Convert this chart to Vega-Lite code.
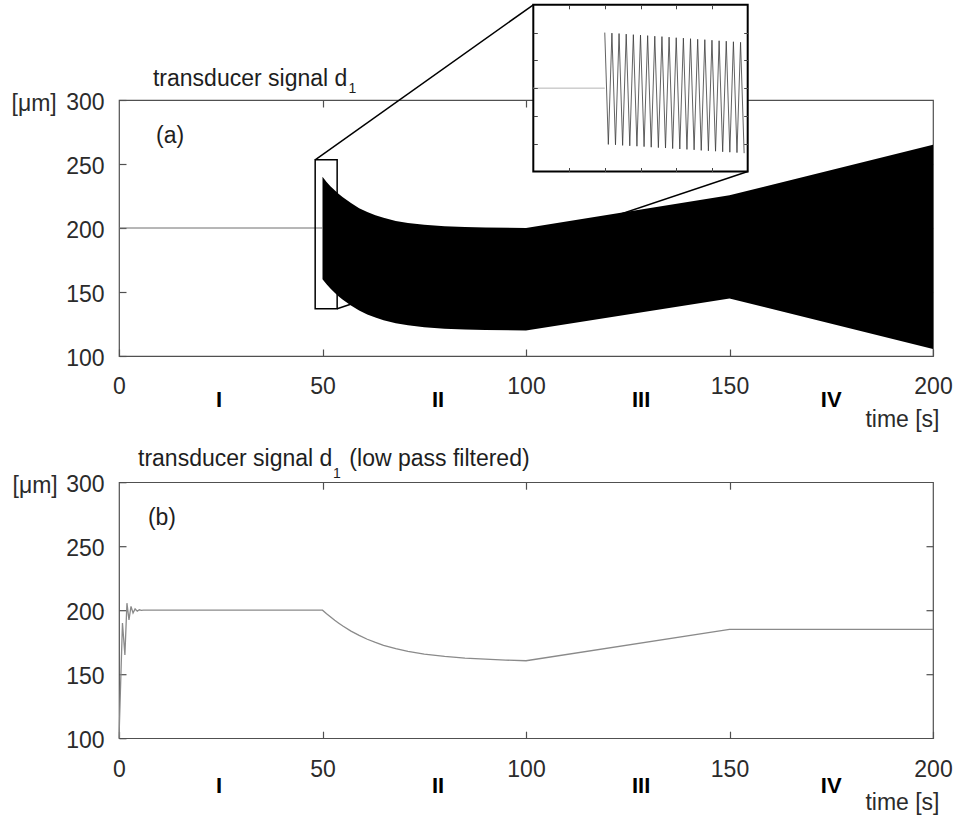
{
  "$schema": "https://vega.github.io/schema/vega-lite/v6.json",
  "padding": {"left": 10, "top": 3, "right": 5, "bottom": 0},
  "bounds": "flush",
  "spacing": 126.2,
  "config": {
    "font": "Liberation Sans",
    "view": {"stroke": "#505050", "strokeWidth": 1.2},
    "axis": {
      "labelFont": "Liberation Sans", "labelFontSize": 23, "labelColor": "#2b2b2b",
      "titleFont": "Liberation Sans", "titleFontSize": 23, "titleFontWeight": "normal", "titleColor": "#2b2b2b",
      "domain": false, "grid": false, "tickColor": "#505050", "tickWidth": 1.2, "tickSize": -7,
      "labelOverlap": false, "labelFlush": false
    }
  },
  "datasets": {
    "envelope": [
      {"t": 50, "hi": 240, "lo": 160},
      {"t": 51, "hi": 236, "lo": 156},
      {"t": 52, "hi": 232.5, "lo": 152.5},
      {"t": 53, "hi": 229.5, "lo": 149.5},
      {"t": 54, "hi": 226.5, "lo": 146.5},
      {"t": 55, "hi": 224, "lo": 144},
      {"t": 57, "hi": 219.5, "lo": 139.5},
      {"t": 59, "hi": 215.5, "lo": 135.5},
      {"t": 61, "hi": 212.5, "lo": 132.5},
      {"t": 63, "hi": 210, "lo": 130},
      {"t": 65, "hi": 208, "lo": 128},
      {"t": 68, "hi": 205.5, "lo": 125.5},
      {"t": 71, "hi": 204, "lo": 124},
      {"t": 75, "hi": 202.5, "lo": 122.5},
      {"t": 80, "hi": 201.3, "lo": 121.3},
      {"t": 85, "hi": 200.7, "lo": 120.7},
      {"t": 90, "hi": 200.3, "lo": 120.3},
      {"t": 100, "hi": 200, "lo": 120},
      {"t": 150, "hi": 225.5, "lo": 145},
      {"t": 200, "hi": 265, "lo": 105.5}
    ],
    "filtered": [
      {"t": 0, "v": 100},
      {"t": 0.85, "v": 190},
      {"t": 1.45, "v": 165},
      {"t": 1.95, "v": 205.5},
      {"t": 2.45, "v": 192.5},
      {"t": 2.95, "v": 203},
      {"t": 3.45, "v": 197.8},
      {"t": 3.95, "v": 201},
      {"t": 4.5, "v": 199.3},
      {"t": 5, "v": 200.3},
      {"t": 5.5, "v": 199.8},
      {"t": 6, "v": 200},
      {"t": 50, "v": 200},
      {"t": 51, "v": 197.2},
      {"t": 52, "v": 194.6},
      {"t": 53, "v": 192.1},
      {"t": 54, "v": 189.8},
      {"t": 55, "v": 187.6},
      {"t": 57, "v": 183.7},
      {"t": 59, "v": 180.3},
      {"t": 61, "v": 177.3},
      {"t": 63, "v": 174.8},
      {"t": 65, "v": 172.6},
      {"t": 68, "v": 169.9},
      {"t": 71, "v": 167.8},
      {"t": 75, "v": 165.7},
      {"t": 80, "v": 163.9},
      {"t": 85, "v": 162.6},
      {"t": 90, "v": 161.7},
      {"t": 95, "v": 161},
      {"t": 100, "v": 160.5},
      {"t": 150, "v": 185},
      {"t": 200, "v": 185}
    ],
    "oscillation": [
      {"t": 50.0, "v": 240.0}, {"t": 50.1, "v": 159.5},
      {"t": 50.2, "v": 239.6}, {"t": 50.3, "v": 159.2},
      {"t": 50.4, "v": 239.3}, {"t": 50.5, "v": 158.8},
      {"t": 50.6, "v": 238.9}, {"t": 50.7, "v": 158.5},
      {"t": 50.8, "v": 238.5}, {"t": 50.9, "v": 158.2},
      {"t": 51.0, "v": 238.2}, {"t": 51.1, "v": 157.9},
      {"t": 51.2, "v": 237.8}, {"t": 51.3, "v": 157.5},
      {"t": 51.4, "v": 237.4}, {"t": 51.5, "v": 157.2},
      {"t": 51.6, "v": 237.1}, {"t": 51.7, "v": 156.9},
      {"t": 51.8, "v": 236.7}, {"t": 51.9, "v": 156.5},
      {"t": 52.0, "v": 236.3}, {"t": 52.1, "v": 156.2},
      {"t": 52.2, "v": 236.0}, {"t": 52.3, "v": 155.9},
      {"t": 52.4, "v": 235.6}, {"t": 52.5, "v": 155.6},
      {"t": 52.6, "v": 235.2}, {"t": 52.7, "v": 155.2},
      {"t": 52.8, "v": 234.9}, {"t": 52.9, "v": 154.9},
      {"t": 53.0, "v": 234.5}, {"t": 53.1, "v": 154.6},
      {"t": 53.2, "v": 234.1}, {"t": 53.3, "v": 154.2},
      {"t": 53.4, "v": 233.8}, {"t": 53.5, "v": 153.9},
      {"t": 53.6, "v": 233.4}, {"t": 53.7, "v": 153.6},
      {"t": 53.8, "v": 233.0}, {"t": 53.9, "v": 153.2}
    ],
    "numerals": [
      {"label": "I", "t": 24.6},
      {"label": "II", "t": 78.4},
      {"label": "III", "t": 128.3},
      {"label": "IV", "t": 175}
    ]
  },
  "vconcat": [
    {
      "width": 814,
      "height": 256,
      "layer": [
        {
          "layer": [
            {
              "data": {"name": "envelope"},
              "mark": {"type": "area", "color": "black", "interpolate": "linear"},
              "encoding": {
                "x": {"field": "t", "type": "quantitative",
                  "scale": {"domain": [0, 200], "nice": false, "zero": false},
                  "axis": {"orient": "bottom", "values": [0, 50, 100, 150, 200], "format": "d",
                    "labelBaseline": "alphabetic", "labelPadding": 44.8,
                    "title": "time [s]", "titleAlign": "right", "titleBaseline": "alphabetic", "titleX": 820, "titleY": 70.5}},
                "y": {"field": "hi", "type": "quantitative",
                  "scale": {"domain": [100, 300], "nice": false, "zero": false},
                  "axis": {"orient": "left", "values": [100, 150, 200, 250, 300], "format": "d",
                    "labelPadding": 22, "labelOffset": 2.5,
                    "title": "[μm]", "titleAngle": 0, "titleAlign": "left", "titleBaseline": "alphabetic", "titleX": -108, "titleY": 10.5}},
                "y2": {"field": "lo"}
              }
            },
            {
              "data": {"values": [{"t": 0, "v": 200}, {"t": 50, "v": 200}]},
              "mark": {"type": "line", "color": "#6e6e6e", "strokeWidth": 1},
              "encoding": {
                "x": {"field": "t", "type": "quantitative",
                  "scale": {"domain": [0, 200], "nice": false, "zero": false},
                  "axis": {"orient": "top", "values": [50, 100, 150], "labels": false, "title": null}},
                "y": {"field": "v", "type": "quantitative",
                  "scale": {"domain": [100, 300], "nice": false, "zero": false},
                  "axis": {"orient": "right", "values": [150, 200, 250], "labels": false, "title": null}}
              }
            },
            {
              "data": {"values": [{}]},
              "mark": {"type": "rect", "filled": false, "stroke": "black", "strokeWidth": 1.5},
              "encoding": {
                "x": {"datum": 48.2, "type": "quantitative", "scale": {"domain": [0, 200], "nice": false, "zero": false}, "axis": null},
                "x2": {"datum": 53.6},
                "y": {"datum": 136.9, "type": "quantitative", "scale": {"domain": [100, 300], "nice": false, "zero": false}, "axis": null},
                "y2": {"datum": 253.3}
              }
            },
            {
              "data": {"values": [{}]},
              "mark": {"type": "rule", "color": "black", "strokeWidth": 1.5},
              "encoding": {
                "x": {"datum": 48.2, "type": "quantitative", "scale": {"domain": [0, 200], "nice": false, "zero": false}, "axis": null},
                "x2": {"datum": 101.8},
                "y": {"datum": 253.3, "type": "quantitative", "scale": {"domain": [100, 300], "nice": false, "zero": false}, "axis": null},
                "y2": {"datum": 374.4}
              }
            },
            {
              "data": {"values": [{}]},
              "mark": {"type": "rule", "color": "black", "strokeWidth": 1.5},
              "encoding": {
                "x": {"datum": 53.6, "type": "quantitative", "scale": {"domain": [0, 200], "nice": false, "zero": false}, "axis": null},
                "x2": {"datum": 154.5},
                "y": {"datum": 136.9, "type": "quantitative", "scale": {"domain": [100, 300], "nice": false, "zero": false}, "axis": null},
                "y2": {"datum": 244.1}
              }
            },
            {
              "data": {"values": [{}]},
              "mark": {"type": "text", "align": "left", "baseline": "alphabetic", "fontSize": 23, "color": "#1e1e1e"},
              "encoding": {
                "x": {"datum": 8.35, "type": "quantitative", "scale": {"domain": [0, 200], "nice": false, "zero": false}, "axis": null},
                "y": {"datum": 311.3, "type": "quantitative", "scale": {"domain": [100, 300], "nice": false, "zero": false}, "axis": null},
                "text": {"value": "transducer signal d"}
              }
            },
            {
              "data": {"values": [{}]},
              "mark": {"type": "text", "align": "left", "baseline": "alphabetic", "fontSize": 14, "color": "#1e1e1e"},
              "encoding": {
                "x": {"datum": 56.4, "type": "quantitative", "scale": {"domain": [0, 200], "nice": false, "zero": false}, "axis": null},
                "y": {"datum": 305.6, "type": "quantitative", "scale": {"domain": [100, 300], "nice": false, "zero": false}, "axis": null},
                "text": {"value": "1"}
              }
            },
            {
              "data": {"values": [{}]},
              "mark": {"type": "text", "align": "left", "baseline": "middle", "fontSize": 23, "color": "#1e1e1e"},
              "encoding": {
                "x": {"datum": 9.1, "type": "quantitative", "scale": {"domain": [0, 200], "nice": false, "zero": false}, "axis": null},
                "y": {"datum": 271.5, "type": "quantitative", "scale": {"domain": [100, 300], "nice": false, "zero": false}, "axis": null},
                "text": {"value": "(a)"}
              }
            },
            {
              "data": {"name": "numerals"},
              "mark": {"type": "text", "align": "center", "baseline": "alphabetic", "fontSize": 22, "fontWeight": "bold", "color": "black"},
              "encoding": {
                "x": {"field": "t", "type": "quantitative", "scale": {"domain": [0, 200], "nice": false, "zero": false}, "axis": null},
                "y": {"datum": 59.8, "type": "quantitative", "scale": {"domain": [100, 300], "nice": false, "zero": false}, "axis": null},
                "text": {"field": "label"}
              }
            }
          ],
          "resolve": {"axis": {"x": "independent", "y": "independent"}}
        },
        {
          "layer": [
            {
              "data": {"values": [{}]},
              "mark": {"type": "rect", "fill": "white", "stroke": "black", "strokeWidth": 2},
              "encoding": {
                "x": {"datum": 48, "type": "quantitative", "scale": {"domain": [48, 54], "range": [414.3, 628.7], "nice": false, "zero": false}, "axis": null},
                "x2": {"datum": 54},
                "y": {"datum": 140, "type": "quantitative", "scale": {"domain": [140, 260], "range": [71.5, -95.2], "nice": false, "zero": false}, "axis": null},
                "y2": {"datum": 260}
              }
            },
            {
              "data": {"values": [{"t": 48, "v": 200}, {"t": 50, "v": 200}]},
              "mark": {"type": "line", "color": "#b4b4b4", "strokeWidth": 1},
              "encoding": {
                "x": {"field": "t", "type": "quantitative",
                  "scale": {"domain": [48, 54], "range": [414.3, 628.7], "nice": false, "zero": false},
                  "axis": {"orient": "top", "offset": 95.2, "values": [49, 50, 51, 52, 53], "labels": false, "title": null, "tickSize": -4, "tickWidth": 1, "tickColor": "#444", "zindex": 1}},
                "y": {"field": "v", "type": "quantitative",
                  "scale": {"domain": [140, 260], "range": [71.5, -95.2], "nice": false, "zero": false},
                  "axis": {"orient": "right", "offset": -185.3, "values": [160, 180, 200, 220, 240], "labels": false, "title": null, "tickSize": -4, "tickWidth": 1, "tickColor": "#444", "zindex": 1}}
              }
            },
            {
              "data": {"name": "oscillation"},
              "mark": {"type": "line", "color": "#3a3a3a", "strokeWidth": 0.8},
              "encoding": {
                "x": {"field": "t", "type": "quantitative",
                  "scale": {"domain": [48, 54], "range": [414.3, 628.7], "nice": false, "zero": false},
                  "axis": {"orient": "bottom", "offset": -184.5, "values": [49, 50, 51, 52, 53], "labels": false, "title": null, "tickSize": -4, "tickWidth": 1, "tickColor": "#444", "zindex": 1}},
                "y": {"field": "v", "type": "quantitative",
                  "scale": {"domain": [140, 260], "range": [71.5, -95.2], "nice": false, "zero": false},
                  "axis": {"orient": "left", "offset": -414.3, "values": [160, 180, 200, 220, 240], "labels": false, "title": null, "tickSize": -4, "tickWidth": 1, "tickColor": "#444", "zindex": 1}}
              }
            }
          ],
          "resolve": {"axis": {"x": "independent", "y": "independent"}}
        }
      ],
      "resolve": {"scale": {"x": "independent", "y": "independent"}, "axis": {"x": "independent", "y": "independent"}}
    },
    {
      "width": 814,
      "height": 256,
      "layer": [
        {
          "data": {"name": "filtered"},
          "mark": {"type": "line", "color": "#8a8a8a", "strokeWidth": 1.3},
          "encoding": {
            "x": {"field": "t", "type": "quantitative",
              "scale": {"domain": [0, 200], "nice": false, "zero": false},
              "axis": {"orient": "bottom", "values": [0, 50, 100, 150, 200], "format": "d",
                "labelBaseline": "alphabetic", "labelPadding": 45.5,
                "title": "time [s]", "titleAlign": "right", "titleBaseline": "alphabetic", "titleX": 820, "titleY": 71}},
            "y": {"field": "v", "type": "quantitative",
              "scale": {"domain": [100, 300], "nice": false, "zero": false},
              "axis": {"orient": "left", "values": [100, 150, 200, 250, 300], "format": "d",
                "labelPadding": 22, "labelOffset": 2.5,
                "title": "[μm]", "titleAngle": 0, "titleAlign": "left", "titleBaseline": "alphabetic", "titleX": -107, "titleY": 10}}
          }
        },
        {
          "data": {"values": [{}]},
          "mark": {"type": "text", "align": "left", "baseline": "middle", "fontSize": 23, "color": "#1e1e1e"},
          "encoding": {
            "x": {"datum": 7.1, "type": "quantitative", "scale": {"domain": [0, 200], "nice": false, "zero": false},
              "axis": {"orient": "top", "values": [50, 100, 150], "labels": false, "title": null}},
            "y": {"datum": 272.4, "type": "quantitative", "scale": {"domain": [100, 300], "nice": false, "zero": false},
              "axis": {"orient": "right", "values": [150, 200, 250], "labels": false, "title": null}},
            "text": {"value": "(b)"}
          }
        },
        {
          "data": {"values": [{}]},
          "mark": {"type": "text", "align": "left", "baseline": "alphabetic", "fontSize": 23, "color": "#1e1e1e"},
          "encoding": {
            "x": {"datum": 4.67, "type": "quantitative", "scale": {"domain": [0, 200], "nice": false, "zero": false}, "axis": null},
            "y": {"datum": 313.0, "type": "quantitative", "scale": {"domain": [100, 300], "nice": false, "zero": false}, "axis": null},
            "text": {"value": "transducer signal d"}
          }
        },
        {
          "data": {"values": [{}]},
          "mark": {"type": "text", "align": "left", "baseline": "alphabetic", "fontSize": 14, "color": "#1e1e1e"},
          "encoding": {
            "x": {"datum": 52.6, "type": "quantitative", "scale": {"domain": [0, 200], "nice": false, "zero": false}, "axis": null},
            "y": {"datum": 303.6, "type": "quantitative", "scale": {"domain": [100, 300], "nice": false, "zero": false}, "axis": null},
            "text": {"value": "1"}
          }
        },
        {
          "data": {"values": [{}]},
          "mark": {"type": "text", "align": "left", "baseline": "alphabetic", "fontSize": 23, "color": "#1e1e1e"},
          "encoding": {
            "x": {"datum": 56.6, "type": "quantitative", "scale": {"domain": [0, 200], "nice": false, "zero": false}, "axis": null},
            "y": {"datum": 313.0, "type": "quantitative", "scale": {"domain": [100, 300], "nice": false, "zero": false}, "axis": null},
            "text": {"value": "(low pass filtered)"}
          }
        },
        {
          "data": {"name": "numerals"},
          "mark": {"type": "text", "align": "center", "baseline": "alphabetic", "fontSize": 22, "fontWeight": "bold", "color": "black"},
          "encoding": {
            "x": {"field": "t", "type": "quantitative", "scale": {"domain": [0, 200], "nice": false, "zero": false}, "axis": null},
            "y": {"datum": 56.8, "type": "quantitative", "scale": {"domain": [100, 300], "nice": false, "zero": false}, "axis": null},
            "text": {"field": "label"}
          }
        }
      ],
      "resolve": {"axis": {"x": "independent", "y": "independent"}}
    }
  ]
}
